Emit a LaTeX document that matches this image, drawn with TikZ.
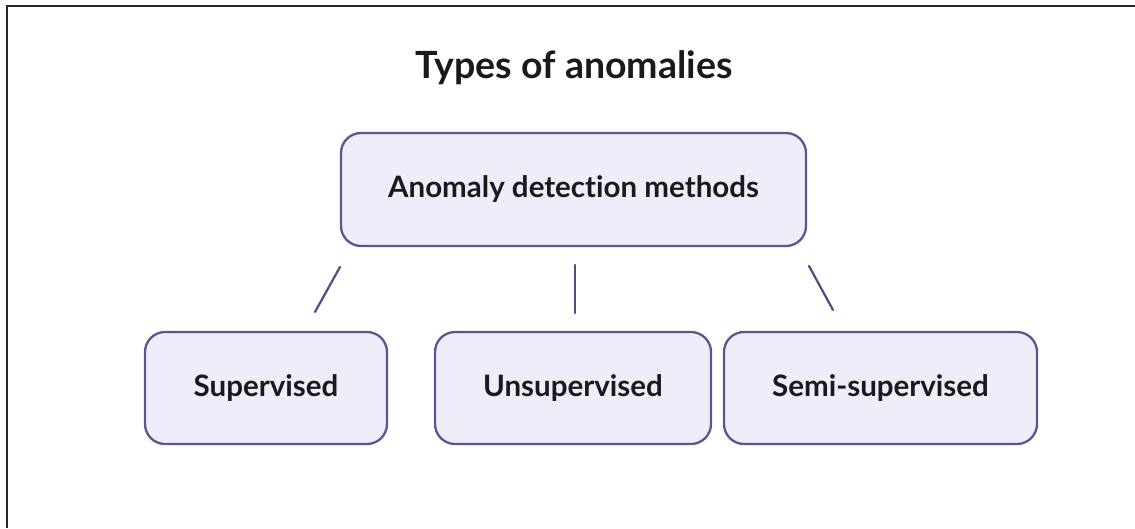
\documentclass[tikz,border=0pt]{standalone}
\usepackage{fontspec}
\setmainfont{Lato}[Ligatures=NoCommon]
\definecolor{boxfill}{HTML}{EEEDFA}
\definecolor{boxline}{HTML}{5A5790}
\definecolor{conn}{HTML}{4F4D85}
\definecolor{txt}{HTML}{1A1A1A}
\begin{document}
\begin{tikzpicture}[x=1pt,y=-1pt,
  box/.style={draw=boxline, fill=boxfill, line width=2.3pt, rounded corners=20pt, inner sep=0pt,
    font=\fontsize{29.5}{34}\selectfont\bfseries, text=txt},
  connector/.style={draw=conn, line width=2.2pt, line cap=round},
  frameline/.style={draw=black!85, line width=1.6pt}]
\useasboundingbox (0,0) rectangle (1135,528);
\draw[frameline] (7,528) -- (7,6) -- (1135,6);
\node[font=\fontsize{37.5}{42}\selectfont\bfseries, text=txt] (title) at (574,68) {Types of anomalies};
\node[box, minimum width=465pt, minimum height=113pt] (main) at (573.5,189.5) {Anomaly detection methods};
\node[box, minimum width=242pt, minimum height=112pt] (sup) at (266,388) {Supervised};
\node[box, minimum width=276pt, minimum height=112pt] (uns) at (573,388) {Unsupervised};
\node[box, minimum width=313pt, minimum height=112pt] (semi) at (880.5,388) {Semi-supervised};
\coordinate (a1) at (340,267);
\coordinate (a2) at (315,312);
\coordinate (b1) at (575,265);
\coordinate (b2) at (575,313);
\coordinate (c1) at (809,266);
\coordinate (c2) at (833,310);
\draw[connector] (a1) -- (a2);
\draw[connector] (b1) -- (b2);
\draw[connector] (c1) -- (c2);
\end{tikzpicture}
\end{document}
